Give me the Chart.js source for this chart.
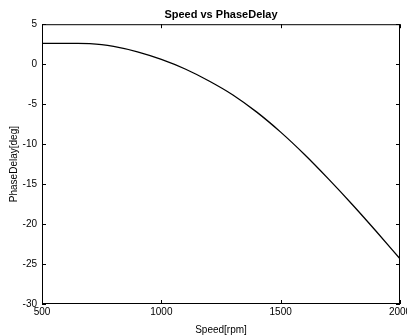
<!DOCTYPE html>
<html>
<head>
<meta charset="utf-8">
<script src="https://cdn.jsdelivr.net/npm/chart.js@4.4.0/dist/chart.umd.min.js"></script>
<style>
  html, body { margin: 0; padding: 0; background: #fff; }
  #wrap { width: 407px; height: 336px; }
</style>
</head>
<body>
<div id="wrap"><canvas id="myChart" width="407" height="336"></canvas></div>
<script>
const speed = [500, 600, 650, 700, 750, 800, 900, 1000, 1100, 1200, 1300, 1400, 1500, 1600, 1700, 1800, 1900, 2000];
const phaseDelay = [2.6, 2.6, 2.6, 2.57, 2.45, 2.22, 1.55, 0.6, -0.6, -2.1, -3.85, -6.0, -8.5, -11.3, -14.35, -17.55, -20.9, -24.35];
const xTicks = [500, 1000, 1500, 2000];
const yTicks = [5, 0, -5, -10, -15, -20, -25, -30];

const points = speed.map((s, i) => ({ x: s, y: phaseDelay[i] }));

// Rahmen und nach innen zeigende Striche wie bei MATLAB
const boxPlugin = {
  id: "box",
  afterDraw(chart) {
    const { ctx, chartArea: a, scales } = chart;
    ctx.save();
    ctx.strokeStyle = "#000";
    ctx.lineWidth = 1;
    ctx.strokeRect(a.left + 0.5, a.top + 0.5, a.right - a.left - 1, a.bottom - a.top - 1);
    ctx.beginPath();
    scales.x.ticks.forEach((t, i) => {
      const px = Math.round(scales.x.getPixelForTick(i)) + 0.5;
      ctx.moveTo(px, a.bottom); ctx.lineTo(px, a.bottom - 4);
      ctx.moveTo(px, a.top); ctx.lineTo(px, a.top + 4);
    });
    scales.y.ticks.forEach((t, i) => {
      const py = Math.round(scales.y.getPixelForTick(i)) + 0.5;
      ctx.moveTo(a.left, py); ctx.lineTo(a.left + 4, py);
      ctx.moveTo(a.right, py); ctx.lineTo(a.right - 4, py);
    });
    ctx.stroke();
    ctx.restore();
  },
};

const font = { family: "'Liberation Sans', Arial, sans-serif", size: 10 };

new Chart(document.getElementById("myChart").getContext("2d"), {
  type: "line",
  data: {
    datasets: [
      {
        data: points,
        borderColor: "#000",
        borderWidth: 1.3,
        pointRadius: 0,
        cubicInterpolationMode: "monotone",
        fill: false,
      },
    ],
  },
  options: {
    responsive: false,
    animation: false,
    layout: { padding: { left: 0, right: 7, top: 0, bottom: 0 } },
    plugins: {
      legend: { display: false },
      tooltip: { enabled: false },
      title: {
        display: true,
        fullSize: false,
        text: "Speed vs PhaseDelay",
        color: "#000",
        font: { family: font.family, size: 11, weight: "bold" },
        padding: { top: 8, bottom: 3 },
      },
    },
    scales: {
      x: {
        type: "linear",
        min: 500,
        max: 2000,
        afterBuildTicks: (s) => { s.ticks = xTicks.map((v) => ({ value: v })); },
        afterFit: (s) => { s.height = 32; s.paddingLeft = 0; s.paddingRight = 0; },
        grid: { display: false, drawTicks: false },
        border: { display: false },
        ticks: { color: "#000", font: font, padding: 2, maxRotation: 0, callback: (v) => String(v) },
        title: { display: true, text: "Speed[rpm]", color: "#000", font: font, padding: { top: 2, bottom: 0 } },
      },
      y: {
        min: -30,
        max: 5,
        afterBuildTicks: (s) => { s.ticks = yTicks.map((v) => ({ value: v })); },
        afterFit: (s) => { s.width = 42; },
        grid: { display: false, drawTicks: false },
        border: { display: false },
        ticks: { color: "#000", font: font, padding: 5, callback: (v) => String(v) },
        title: { display: true, text: "PhaseDelay[deg]", color: "#000", font: font, padding: { top: 8, bottom: 0 } },
      },
    },
  },
  plugins: [boxPlugin],
});
</script>
</body>
</html>
